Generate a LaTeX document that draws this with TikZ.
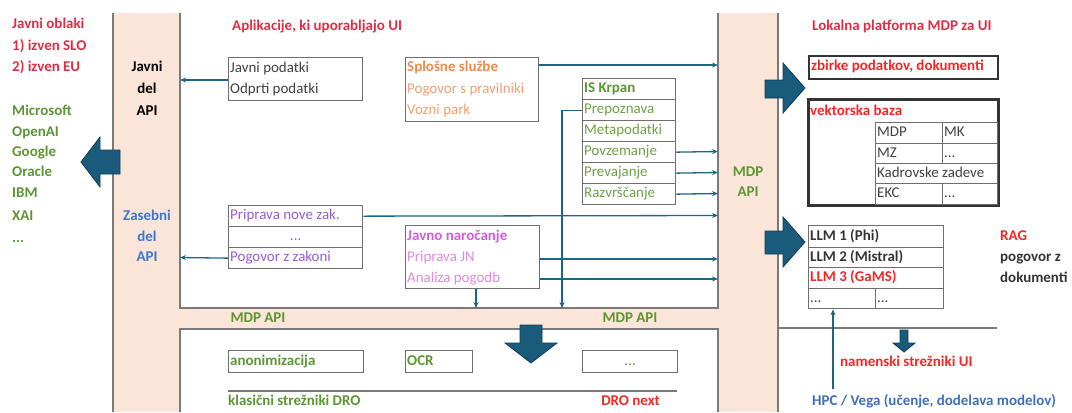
\documentclass[tikz,border=0pt]{standalone}
\usepackage{fontspec}
\setmainfont{Carlito}
\usetikzlibrary{arrows.meta}
\definecolor{pinkc}{HTML}{FBE4D8}
\definecolor{lineg}{HTML}{7A7A7A}
\definecolor{boxg}{HTML}{6E6E6E}
\definecolor{redA}{HTML}{DC2F46}
\definecolor{redB}{HTML}{F02828}
\definecolor{greenA}{HTML}{5C9632}
\definecolor{greenL}{HTML}{6FA046}
\definecolor{orangeA}{HTML}{EE8B4E}
\definecolor{orangeL}{HTML}{F2A070}
\definecolor{purpA}{HTML}{9A5BD0}
\definecolor{magA}{HTML}{D05ED8}
\definecolor{magL}{HTML}{DF8ADF}
\definecolor{blueA}{HTML}{3A78D0}
\definecolor{blueH}{HTML}{3F6FB8}
\definecolor{connc}{HTML}{1E6485}
\definecolor{arrowF}{HTML}{1A5A7A}
\definecolor{arrowD}{HTML}{113F55}
\definecolor{darkT}{HTML}{333333}
\definecolor{cellT}{HTML}{404040}
\begin{document}
\begin{tikzpicture}[x=1bp,y=-1bp,
  t/.style={inner sep=0pt, anchor=west, font=\fontsize{15}{18}\selectfont, text height=10bp, text depth=3.2bp},
  tb/.style={t, font=\fontsize{15}{18}\selectfont\bfseries},
  tc/.style={tb, anchor=center},
  cell/.style={draw=boxg, line width=1.3bp, anchor=north west, inner sep=0pt},
  thick box/.style={draw=darkT, line width=2bp, anchor=north west, inner sep=0pt},
  gline/.style={draw=lineg, line width=1.5bp},
  conn/.style={draw=connc, line width=1.3bp, -{Stealth[length=6bp,width=5bp]}},
  barrow/.style={fill=arrowF, draw=arrowD, line width=0.8bp, line join=miter}]
\useasboundingbox (0,0) rectangle (1072,412);

% pink bands
\fill[pinkc] (113,13) rectangle (180,412);
\fill[pinkc] (180,308) rectangle (718,329);
\fill[pinkc] (718,13) rectangle (778,412);
\draw[gline] (113,13) -- (113,412);
\draw[gline] (180,13) -- (180,308) -- (718,308) -- (718,13);
\draw[gline] (180,412) -- (180,329) -- (718,329) -- (718,412);
\draw[gline] (778,13) -- (778,412);
\draw[gline] (778,328) -- (997,328);

% left column
\node[tb, text=redA] (lo1) at (12,25) {Javni oblaki};
\node[tb, text=redA] (lo2) at (12,47) {1) izven SLO};
\node[tb, text=redA] (lo3) at (12,68) {2) izven EU};
\node[tb, text=greenA] (c1) at (12,112) {Microsoft};
\node[tb, text=greenA] (c2) at (12,133) {OpenAI};
\node[tb, text=greenA] (c3) at (12,153) {Google};
\node[tb, text=greenA] (c4) at (12,173) {Oracle};
\node[tb, text=greenA] (c5) at (12,194) {IBM};
\node[tb, text=greenA] (c6) at (12,217) {XAI};
\node[tb, text=greenA] (c7) at (12,239) {...};

% left block arrow
\path[barrow] (81,162) -- (100,137) -- (100,150) -- (120,150) -- (120,174) -- (100,174) -- (100,187) -- cycle;

% left band labels
\node[tc, text=black] (jd1) at (147,68) {Javni};
\node[tc, text=black] (jd2) at (147,90) {del};
\node[tc, text=black] (jd3) at (147,112) {API};
\node[tc, text=blueA] (zd1) at (147,217) {Zasebni};
\node[tc, text=blueA] (zd2) at (147,238) {del};
\node[tc, text=blueA] (zd3) at (147,258) {API};

% title
\node[tb, text=redA] (tit) at (232,27) {Aplikacije, ki uporabljajo UI};

% Javni podatki
\node[cell, minimum width=134bp, minimum height=43bp] (jp) at (228,57) {};
\node[t, text=cellT] (jpt1) at (230,69) {Javni podatki};
\node[t, text=cellT] (jpt2) at (230,90) {Odprti podatki};
\coordinate (jpE) at (180,80);
\draw[conn] (jp.west |- jpE) -- (jpE);

% Splosne sluzbe
\node[cell, minimum width=133bp, minimum height=64bp] (sp) at (405,57) {};
\node[tb, text=orangeA] (spt1) at (407,68) {Splošne službe};
\node[t, text=orangeL] (spt2) at (407,90) {Pogovor s pravilniki};
\node[t, text=orangeL] (spt3) at (407,111) {Vozni park};
\coordinate (spE) at (718,65);
\draw[conn] (sp.east |- spE) -- (spE);

% IS Krpan
\node[cell, minimum width=93bp, minimum height=21bp] (k0) at (582,78) {};
\node[tb, text=greenA] (kt0) at ([xshift=2bp]k0.west) {IS Krpan};
\foreach \i/\lab in {1/Prepoznava,2/Metapodatki,3/Povzemanje,4/Prevajanje,5/Razvrščanje}{
  \node[cell, minimum width=93bp, minimum height=21bp] (k\i) at (582,{78+21*\i}) {};
  \node[t, text=greenL] (kt\i) at ([xshift=2bp]k\i.west) {\lab};
}
\foreach \i in {3,4,5}{
  \coordinate (kE\i) at (718,{88.5+21*\i});
  \draw[conn] (k\i.east) -- (kE\i);
}
\coordinate (kD) at (562,308);
\draw[conn] (k1.west) -| (kD);

% Priprava nove zak.
\node[cell, minimum width=134bp, minimum height=21bp] (p1) at (228,205) {};
\node[cell, minimum width=134bp, minimum height=21bp] (p2) at (228,226) {};
\node[cell, minimum width=134bp, minimum height=21bp] (p3) at (228,247) {};
\node[t, text=purpA] (pt1) at ([xshift=2bp]p1.west) {Priprava nove zak.};
\node[t, text=purpA, anchor=center] (pt2) at (p2.center) {...};
\node[t, text=purpA] (pt3) at ([xshift=2bp]p3.west) {Pogovor z zakoni};
\coordinate (pE) at (718,215.5);
\draw[conn] (p1.east) -- (pE);
\coordinate (pW) at (180,257.5);
\draw[conn] (p3.west) -- (pW);

% Javno narocanje
\node[cell, minimum width=134bp, minimum height=63bp] (jn) at (405,225) {};
\node[tb, text=magA] (jnt1) at (407,237) {Javno naročanje};
\node[t, text=magL] (jnt2) at (407,258) {Priprava JN};
\node[t, text=magL] (jnt3) at (407,279) {Analiza pogodb};
\coordinate (jnE1) at (718,259);
\coordinate (jnE2) at (718,279);
\draw[conn] (jn.east |- jnE1) -- (jnE1);
\draw[conn] (jn.east |- jnE2) -- (jnE2);
\coordinate (jnD) at (476,308);
\draw[conn] (jn.south -| jnD) -- (jnD);

% MDP API labels
\node[tc, text=greenA] (ma1) at (258,319) {MDP API};
\node[tc, text=greenA] (ma2) at (630,319) {MDP API};
\node[tc, text=greenA] (ma3) at (748,173) {MDP};
\node[tc, text=greenA] (ma4) at (748,193) {API};

% down block arrow
\path[barrow] (520,325) -- (542,325) -- (542,343) -- (557,343) -- (531,363) -- (505,343) -- (520,343) -- cycle;

% lower box
\node[cell, minimum width=135bp, minimum height=22bp] (an) at (228,350) {};
\node[tb, text=greenA] (ant) at ([xshift=2bp]an.west) {anonimizacija};
\node[cell, minimum width=67bp, minimum height=22bp] (ocr) at (405,350) {};
\node[tb, text=greenA] (ocrt) at ([xshift=2bp]ocr.west) {OCR};
\node[cell, minimum width=95bp, minimum height=22bp] (dt) at (582,350) {};
\node[t, text=greenA, anchor=center] (dtt) at (dt.center) {...};
\draw[draw=lineg, line width=2bp] (228,391) -- (677,391);
\node[tb, text=greenA] (kl) at (228,402) {klasični strežniki DRO};
\node[tb, text=redB, anchor=east] (dn) at (660,402) {DRO next};

% right side
\node[tb, text=redA] (lok) at (812,27) {Lokalna platforma MDP za UI};
\path[barrow] (765,80) -- (783,80) -- (783,63) -- (805,88) -- (783,113) -- (783,98) -- (765,98) -- cycle;
\path[barrow] (765,231) -- (783,231) -- (783,217) -- (805,242) -- (783,267) -- (783,254) -- (765,254) -- cycle;

\node[thick box, minimum width=189bp, minimum height=23bp] (zb) at (808,55) {};
\node[tb, text=redB] (zbt) at ([xshift=3bp]zb.west) {zbirke podatkov, dokumenti};

\node[thick box, minimum width=189bp, minimum height=105bp] (vb) at (808,99) {};
\node[tb, text=redB] (vbt) at (810,112) {vektorska baza};
\node[cell, minimum width=67bp, minimum height=21bp] (v11) at (875,122) {};
\node[cell, minimum width=55bp, minimum height=21bp] (v12) at (942,122) {};
\node[cell, minimum width=67bp, minimum height=20bp] (v21) at (875,143) {};
\node[cell, minimum width=55bp, minimum height=20bp] (v22) at (942,143) {};
\node[cell, minimum width=122bp, minimum height=20bp] (v3) at (875,163) {};
\node[cell, minimum width=67bp, minimum height=21bp] (v41) at (875,183) {};
\node[cell, minimum width=55bp, minimum height=21bp] (v42) at (942,183) {};
\node[t, text=cellT] (v11t) at ([xshift=2bp]v11.west) {MDP};
\node[t, text=cellT] (v12t) at ([xshift=2bp]v12.west) {MK};
\node[t, text=cellT] (v21t) at ([xshift=2bp]v21.west) {MZ};
\node[t, text=cellT] (v22t) at ([xshift=2bp]v22.west) {...};
\node[t, text=cellT] (v3t) at ([xshift=2bp]v3.west) {Kadrovske zadeve};
\node[t, text=cellT] (v41t) at ([xshift=2bp]v41.west) {EKC};
\node[t, text=cellT] (v42t) at ([xshift=2bp]v42.west) {...};
\draw[draw=darkT, line width=2bp] (vb.north west) rectangle (vb.south east);

% LLM table
\node[cell, minimum width=135bp, minimum height=22bp] (l1) at (808,225) {};
\node[cell, minimum width=135bp, minimum height=20bp] (l2) at (808,247) {};
\node[cell, minimum width=135bp, minimum height=21bp] (l3) at (808,267) {};
\node[cell, minimum width=67bp, minimum height=20bp] (l4a) at (808,288) {};
\node[cell, minimum width=68bp, minimum height=20bp] (l4b) at (875,288) {};
\node[tb, text=darkT] (l1t) at ([xshift=2bp]l1.west) {LLM 1 (Phi)};
\node[tb, text=darkT] (l2t) at ([xshift=2bp]l2.west) {LLM 2 (Mistral)};
\node[tb, text=redB] (l3t) at ([xshift=2bp]l3.west) {LLM 3 (GaMS)};
\node[t, text=cellT] (l4at) at ([xshift=2bp]l4a.west) {...};
\node[t, text=cellT] (l4bt) at ([xshift=2bp]l4b.west) {...};

\node[tb, text=redB] (rag) at (1000,237) {RAG};
\node[tb, text=darkT] (rag2) at (1000,258) {pogovor z};
\node[tb, text=darkT] (rag3) at (1000,279) {dokumenti};

% small down arrow
\path[barrow] (900,330) -- (908,330) -- (908,343) -- (915,343) -- (904,352) -- (893,343) -- (900,343) -- cycle;
\node[tb, text=redB] (nam) at (840,363) {namenski strežniki UI};

\coordinate (hpcS) at (833,389);
\draw[conn] (hpcS) -- (hpcS |- l4a.south);
\node[tb, text=blueH] (hpc) at (812,402) {HPC / Vega (učenje, dodelava modelov)};
\end{tikzpicture}
\end{document}
